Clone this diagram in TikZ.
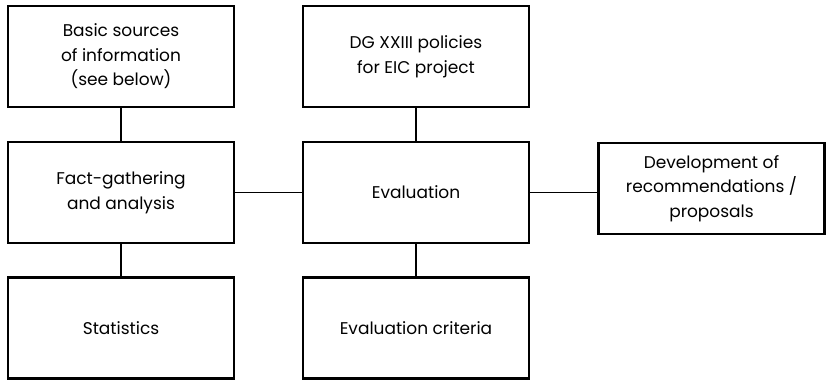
\documentclass[tikz,border=0pt]{standalone}
\usepackage{fontspec}
\setmainfont{Poppins}
\usetikzlibrary{positioning}

\begin{document}
\begin{tikzpicture}[
    x=0.03cm, y=-0.03cm,
    % Node styles
    stagebox/.style={
        rectangle,
        draw=black,
        line width=1.8pt,
        fill=white,
        minimum width=6.78cm,
        minimum height=3.03cm,
        font=\fontsize{14.5}{21}\selectfont,
        align=center
    },
    sidebox/.style={
        stagebox,
        minimum height=2.73cm
    },
    link/.style={
        line width=1.5pt,
        black
    }
]
\useasboundingbox (0,0) rectangle (826,379);

% === Left column ===
\node[stagebox] (sources) at (121, 56.5) {Basic sources\\of information\\(see below)};
\node[stagebox] (facts) at (121, 192.5) {Fact-gathering\\and analysis};
\node[stagebox] (stats) at (121, 328) {Statistics};

% === Middle column ===
\node[stagebox] (policies) at (416, 56.5) {DG XXIII policies\\for EIC project};
\node[stagebox] (eval) at (416, 192.5) {Evaluation};
\node[stagebox] (criteria) at (416, 328) {Evaluation criteria};

% === Right ===
\node[sidebox] (recom) at (711.5, 188.5) {Development of\\recommendations /\\proposals};

% === Connectors ===
\draw[link] (sources) -- (facts);
\draw[link] (facts) -- (stats);
\draw[link] (policies) -- (eval);
\draw[link] (eval) -- (criteria);
\draw[link] (facts.east) -- (eval.west);
\draw[link] (eval.east) -- (eval.east -| recom.west);

\end{tikzpicture}
\end{document}
